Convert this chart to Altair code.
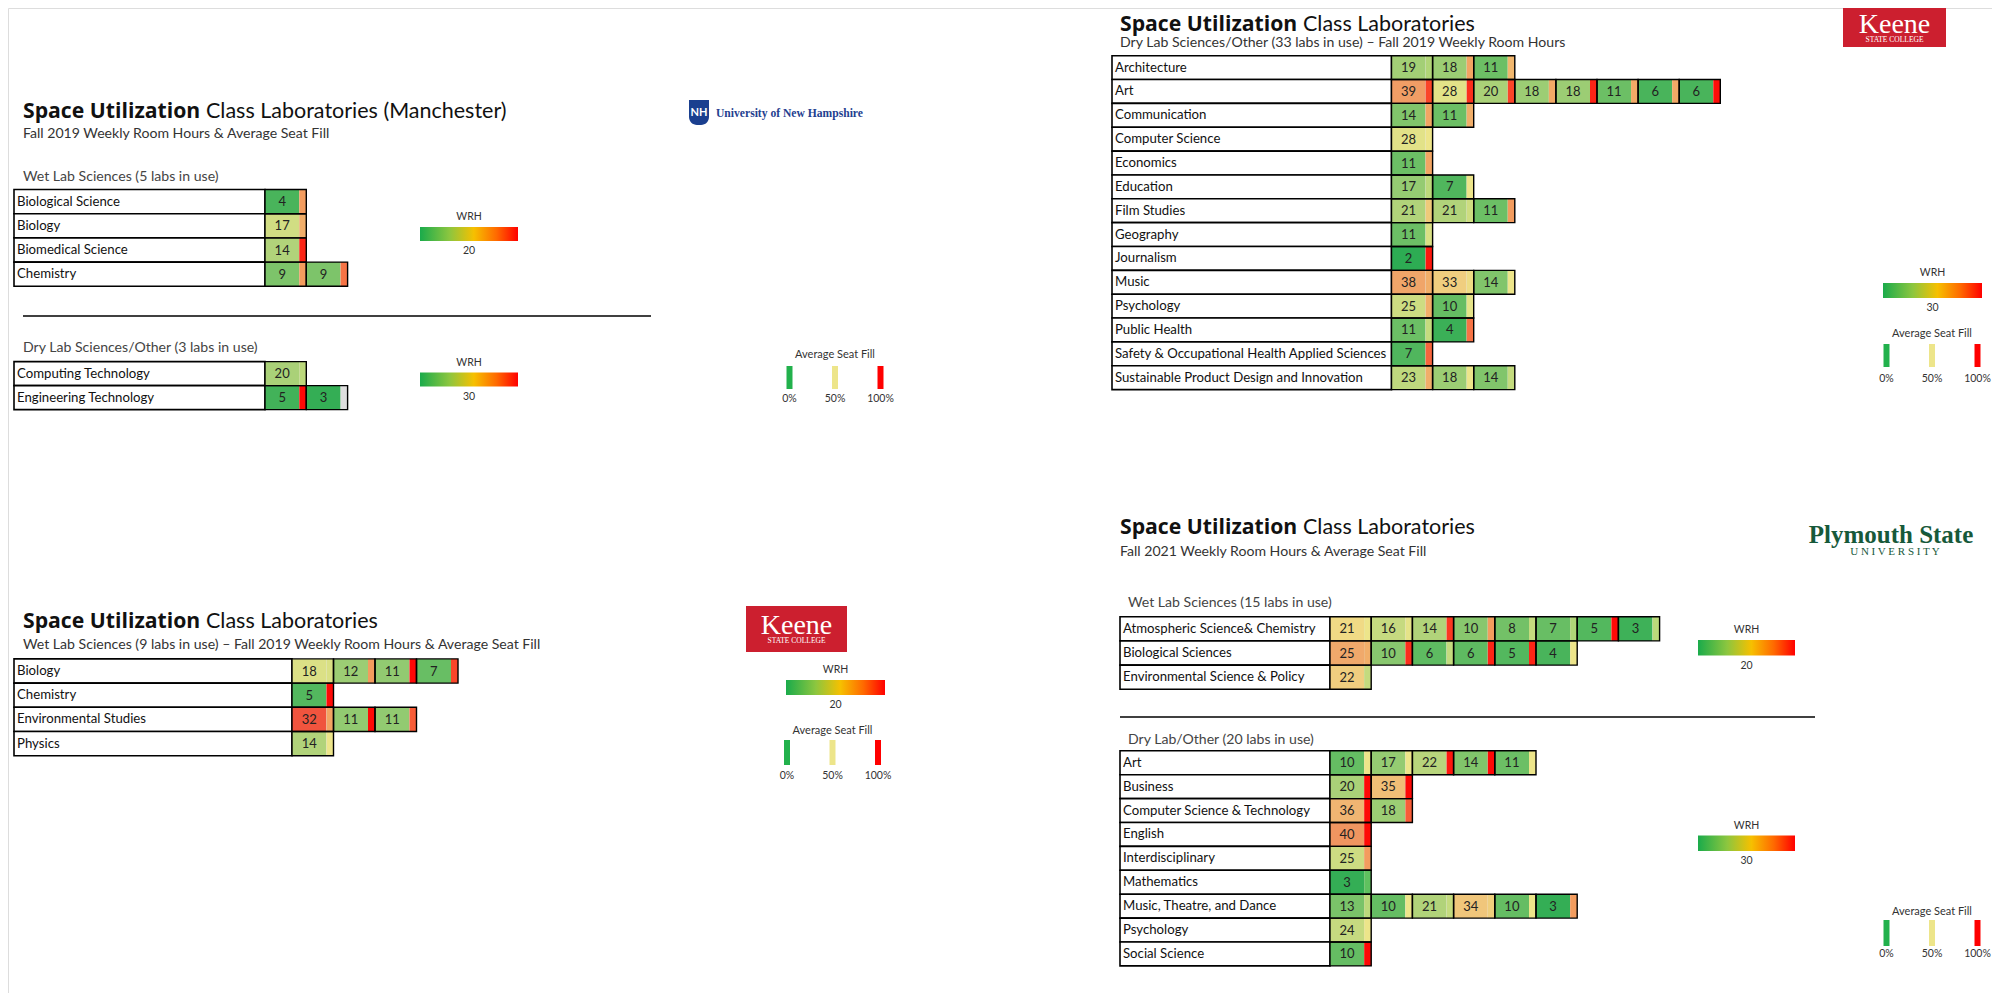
import altair as alt
import pandas as pd

# ---------------- data ----------------
# University of New Hampshire - Manchester
unh_wet_depts = ["Biological Science", "Biology", "Biomedical Science", "Chemistry"]
unh_wet_wrh = [[4], [17], [14], [9, 9]]
unh_wet_fill = [[66], [62], [92], [66, 75]]

unh_dry_depts = ["Computing Technology", "Engineering Technology"]
unh_dry_wrh = [[20], [5, 3]]
unh_dry_fill = [[38], [98, None]]

# Keene State College - dry labs
keene_dry_depts = ["Architecture", "Art", "Communication", "Computer Science", "Economics",
                   "Education", "Film Studies", "Geography", "Journalism", "Music",
                   "Psychology", "Public Health",
                   "Safety & Occupational Health Applied Sciences",
                   "Sustainable Product Design and Innovation"]
keene_dry_wrh = [[19, 18, 11], [39, 28, 20, 18, 18, 11, 6, 6], [14, 11], [28], [11],
                 [17, 7], [21, 21, 11], [11], [2], [38, 33, 14], [25, 10], [11, 4], [7],
                 [23, 18, 14]]
keene_dry_fill = [[35, 64, 60], [85, 90, 85, 63, 92, 63, 63, 97], [64, 62], [50], [64],
                  [38, 50], [56, 42, 66], [45], [95], [62, 52, 50], [62, 48], [40, 75], [78],
                  [62, 50, 40]]

# Keene State College - wet labs
keene_wet_depts = ["Biology", "Chemistry", "Environmental Studies", "Physics"]
keene_wet_wrh = [[18, 12, 11, 7], [5], [32, 11, 11], [14]]
keene_wet_fill = [[45, 66, 98, 85], [98], [64, 98, 80], [50]]

# Plymouth State University
psu_wet_depts = ["Atmospheric Science& Chemistry", "Biological Sciences",
                 "Environmental Science & Policy"]
psu_wet_wrh = [[21, 16, 14, 10, 8, 7, 5, 3], [25, 10, 6, 6, 5, 4], [22]]
psu_wet_fill = [[50, 48, 88, 66, 40, 35, 98, 38], [62, 90, 40, 92, 92, 50], [40]]

psu_dry_depts = ["Art", "Business", "Computer Science & Technology", "English",
                 "Interdisciplinary", "Mathematics", "Music, Theatre, and Dance",
                 "Psychology", "Social Science"]
psu_dry_wrh = [[10, 17, 22, 14, 11], [20, 35], [36, 18], [40], [25], [3],
               [13, 10, 21, 34, 10, 3], [24], [10]]
psu_dry_fill = [[50, 50, 95, 98, 50], [98, 98], [98, 80], [98], [66], [15],
                [38, 50, 40, 55, 50, 66], [50], [98]]

titles_bold = ["Space Utilization"] * 4
titles_reg = ["Class Laboratories (Manchester)", "Class Laboratories",
              "Class Laboratories", "Class Laboratories"]
subtitles = ["Fall 2019 Weekly Room Hours & Average Seat Fill",
             "Dry Lab Sciences/Other (33 labs in use) \u2013 Fall 2019 Weekly Room Hours",
             "Wet Lab Sciences (9 labs in use) \u2013 Fall 2019 Weekly Room Hours & Average Seat Fill",
             "Fall 2021 Weekly Room Hours & Average Seat Fill"]
sections = ["Wet Lab Sciences (5 labs in use)", "Dry Lab Sciences/Other (3 labs in use)",
            "Wet Lab Sciences (15 labs in use)", "Dry Lab/Other (20 labs in use)"]
fill_pcts = [0, 50, 100]
fill_labels = ["0%", "50%", "100%"]

# ---------------- layout ----------------
FONT = "Lato"
BOLD_FONT = "Open Sans"
SERIF = "Liberation Serif"
STRIP = 7

tables = [
    dict(depts=unh_wet_depts, wrh=unh_wet_wrh, fill=unh_wet_fill, target=20,
         x0=14, x1=265, top=189.5, rh=24.2, cw=41.3, leg=(420, 518, 227, 241)),
    dict(depts=unh_dry_depts, wrh=unh_dry_wrh, fill=unh_dry_fill, target=30,
         x0=14, x1=265, top=361.6, rh=24.0, cw=41.3, leg=(420, 518, 372.5, 386.5)),
    dict(depts=keene_dry_depts, wrh=keene_dry_wrh, fill=keene_dry_fill, target=30,
         x0=1112, x1=1391.5, top=55.7, rh=23.85, cw=41.1, leg=(1883, 1982, 283, 298)),
    dict(depts=keene_wet_depts, wrh=keene_wet_wrh, fill=keene_wet_fill, target=20,
         x0=14, x1=292, top=658.9, rh=24.2, cw=41.5, leg=(786, 885, 680, 695)),
    dict(depts=psu_wet_depts, wrh=psu_wet_wrh, fill=psu_wet_fill, target=20,
         x0=1120, x1=1330, top=616.7, rh=24.2, cw=41.2, leg=(1698, 1795, 640, 655.5)),
    dict(depts=psu_dry_depts, wrh=psu_dry_wrh, fill=psu_dry_fill, target=30,
         x0=1120, x1=1330, top=750.8, rh=23.9, cw=41.2, leg=(1698, 1795, 835.5, 851)),
]
title_pos = [(23, 112, 134), (1120, 25, 43), (23, 622, 645), (1120, 528, 552)]
TITLE_GAP = 183
section_pos = [(23, 177), (23, 348), (1128, 603), (1128, 740)]
# seat-fill legends: first bar centre x, bar top, bar bottom, title y, label y
fill_leg_pos = [(789.5, 366, 389, 355, 399), (1886.5, 344, 367, 334, 379),
                (787, 740, 765, 731, 776), (1886.5, 920, 946, 912, 954)]
FILL_SPACING = 45.5
separators = [dict(x0=23, x1=651, y=316), dict(x0=1120, x1=1815, y=717)]

# ---------------- build tables ----------------
name_rows, cell_rows, grad_rows = [], [], []
left_txt, bold_txt, center_txt = [], [], []
for t in tables:
    for i, (dept, vals, fills) in enumerate(zip(t["depts"], t["wrh"], t["fill"])):
        y0 = t["top"] + i * t["rh"]
        y1 = y0 + t["rh"]
        name_rows.append(dict(x0=t["x0"], x1=t["x1"], y0=y0, y1=y1))
        left_txt.append(dict(x=t["x0"] + 3, y=(y0 + y1) / 2, text=dept, fs=13.2, col="#111111"))
        for j, (v, f) in enumerate(zip(vals, fills)):
            cx0 = t["x1"] + j * t["cw"]
            cx1 = cx0 + t["cw"]
            cs = cx1 - STRIP
            cell_rows.append(dict(x0=cx0, xs=cs, x1=cx1, y0=y0, y1=y1,
                                  ratio=v / t["target"], fill=f))
            center_txt.append(dict(x=(cx0 + cs) / 2, y=(y0 + y1) / 2 + 0.5, text=str(v),
                                   fs=13, col="#222222"))
    lx0, lx1, ly0, ly1 = t["leg"]
    grad_rows.append(dict(x0=lx0, x1=lx1, y0=ly0, y1=ly1))
    center_txt.append(dict(x=(lx0 + lx1) / 2, y=ly0 - 10, text="WRH", fs=10.5, col="#333333"))
    center_txt.append(dict(x=(lx0 + lx1) / 2, y=ly1 + 10, text=str(t["target"]), fs=10.5,
                           col="#333333"))

for k in range(4):
    x, ty, sy = title_pos[k]
    bold_txt.append(dict(x=x, y=ty, text=titles_bold[k], fs=21.2, col="#111111"))
    left_txt.append(dict(x=x + TITLE_GAP, y=ty, text=titles_reg[k], fs=21.5, col="#111111"))
    left_txt.append(dict(x=x, y=sy, text=subtitles[k], fs=14.1, col="#333333"))
    sx, sy2 = section_pos[k]
    left_txt.append(dict(x=sx, y=sy2, text=sections[k], fs=14.1, col="#444444"))

fill_bar_rows = []
for (bx, by0, by1, tyy, lyy) in fill_leg_pos:
    center_txt.append(dict(x=bx + FILL_SPACING, y=tyy, text="Average Seat Fill", fs=11,
                           col="#333333"))
    for m, (p, lab) in enumerate(zip(fill_pcts, fill_labels)):
        cx = bx + m * FILL_SPACING
        fill_bar_rows.append(dict(x0=cx - 3, x1=cx + 3, y0=by0, y1=by1, pct=p))
        center_txt.append(dict(x=cx, y=lyy, text=lab, fs=10.5, col="#333333"))

names_df = pd.DataFrame(name_rows)
cells_df = pd.DataFrame(cell_rows)
grad_df = pd.DataFrame(grad_rows)
fillbar_df = pd.DataFrame(fill_bar_rows)
left_df = pd.DataFrame(left_txt)
bold_df = pd.DataFrame(bold_txt)
center_df = pd.DataFrame(center_txt)
sep_df = pd.DataFrame(separators)

# logos
keene_boxes = pd.DataFrame([dict(x0=1843, x1=1946, y0=5, y1=47), dict(x0=746, x1=847, y0=606, y1=652)])
keene_big = pd.DataFrame([dict(x=(r.x0 + r.x1) / 2, y=r.y0 + 28, text="Keene") for r in keene_boxes.itertuples()])
keene_small = pd.DataFrame([dict(x=(r.x0 + r.x1) / 2, y=r.y0 + 37, text="STATE COLLEGE") for r in keene_boxes.itertuples()])
unh_shield = pd.DataFrame([dict(x0=689, x1=709, y0=100, y1=125)])
unh_nh = pd.DataFrame([dict(x=699, y=113, text="NH")])
unh_word = pd.DataFrame([dict(x=716, y=114, text="University of New Hampshire")])
psu_word = pd.DataFrame([dict(x=1891, y=543, text="Plymouth State")])
psu_univ = pd.DataFrame([dict(x=1895, y=555, text="U  N  I  V  E  R  S  I  T  Y")])

# ---------------- encodings ----------------
XS = alt.Scale(domain=[8, 1992], nice=False, zero=False)
YS = alt.Scale(domain=[8, 993], nice=False, zero=False, reverse=True)


def X(f):
    return alt.X(f"{f}:Q", scale=XS, axis=None)


def Y(f):
    return alt.Y(f"{f}:Q", scale=YS, axis=None)


def rect_enc(x0="x0", x1="x1", y0="y0", y1="y1"):
    return dict(x=X(x0), x2=alt.X2(f"{x1}:Q"), y=Y(y0), y2=alt.Y2(f"{y1}:Q"))


wrh_scale = alt.Scale(domain=[0, 1, 1.75], range=["#1fa84f", "#f0e68c", "#f0302a"],
                      clamp=True, interpolate="rgb")
fill_scale = alt.Scale(domain=[0, 50, 100], range=["#22b14c", "#ede58a", "#ff0000"],
                       clamp=True, interpolate="rgb")

layers = []
layers.append(alt.Chart(names_df).mark_rect(fill="white", stroke="black", strokeWidth=1.6)
              .encode(**rect_enc()))
layers.append(alt.Chart(cells_df).mark_rect()
              .encode(**rect_enc(x1="xs"),
                      fill=alt.Fill("ratio:Q", scale=wrh_scale, legend=None)))
layers.append(alt.Chart(cells_df).mark_rect(fill="#dedede")
              .encode(**rect_enc(x0="xs")))
layers.append(alt.Chart(cells_df).transform_filter("isValid(datum.fill)").mark_rect()
              .encode(**rect_enc(x0="xs"),
                      color=alt.Color("fill:Q", scale=fill_scale, legend=None)))
layers.append(alt.Chart(cells_df).mark_rect(fillOpacity=0, stroke="black", strokeWidth=1.4)
              .encode(**rect_enc()))
layers.append(alt.Chart(sep_df).mark_rule(color="black", strokeWidth=1.5)
              .encode(x=X("x0"), x2=alt.X2("x1:Q"), y=Y("y")))
layers.append(alt.Chart(grad_df).mark_rect(
    color=alt.Gradient(gradient="linear",
                       stops=[alt.GradientStop(color="#1aab4b", offset=0),
                              alt.GradientStop(color="#8cc63f", offset=0.3),
                              alt.GradientStop(color="#f6c000", offset=0.55),
                              alt.GradientStop(color="#ff6a00", offset=0.78),
                              alt.GradientStop(color="#ff0000", offset=1)],
                       x1=0, x2=1, y1=0, y2=0))
    .encode(**rect_enc()))
layers.append(alt.Chart(fillbar_df).mark_rect()
              .encode(**rect_enc(),
                      color=alt.Color("pct:Q", scale=fill_scale, legend=None)))

layers.append(alt.Chart(left_df).mark_text(align="left", baseline="middle", font=FONT)
              .encode(x=X("x"), y=Y("y"), text="text:N",
                      size=alt.Size("fs:Q", scale=None),
                      color=alt.Color("col:N", scale=None)))
layers.append(alt.Chart(bold_df).mark_text(align="left", baseline="middle", font=BOLD_FONT,
                                           fontWeight="bold")
              .encode(x=X("x"), y=Y("y"), text="text:N",
                      size=alt.Size("fs:Q", scale=None),
                      color=alt.Color("col:N", scale=None)))
layers.append(alt.Chart(center_df).mark_text(align="center", baseline="middle", font=FONT)
              .encode(x=X("x"), y=Y("y"), text="text:N",
                      size=alt.Size("fs:Q", scale=None),
                      color=alt.Color("col:N", scale=None)))

# logos
layers.append(alt.Chart(keene_boxes).mark_rect(color="#cc1f2f").encode(**rect_enc()))
layers.append(alt.Chart(keene_big).mark_text(font=SERIF, fontSize=28, color="white",
                                             align="center", baseline="alphabetic")
              .encode(x=X("x"), y=Y("y"), text="text:N"))
layers.append(alt.Chart(keene_small).mark_text(font=SERIF, fontSize=7.5, color="white",
                                               align="center", baseline="alphabetic")
              .encode(x=X("x"), y=Y("y"), text="text:N"))
layers.append(alt.Chart(unh_shield).mark_rect(color="#1a3f8f", cornerRadiusBottomLeft=8,
                                              cornerRadiusBottomRight=8)
              .encode(**rect_enc()))
layers.append(alt.Chart(unh_nh).mark_text(font=FONT, fontSize=11, fontWeight="bold",
                                          color="white", align="center", baseline="middle")
              .encode(x=X("x"), y=Y("y"), text="text:N"))
layers.append(alt.Chart(unh_word).mark_text(font=SERIF, fontSize=11.6, fontWeight="bold",
                                            color="#23408f", align="left", baseline="middle")
              .encode(x=X("x"), y=Y("y"), text="text:N"))
layers.append(alt.Chart(psu_word).mark_text(font=SERIF, fontSize=25, fontWeight="bold",
                                            color="#17593a", align="center",
                                            baseline="alphabetic")
              .encode(x=X("x"), y=Y("y"), text="text:N"))
layers.append(alt.Chart(psu_univ).mark_text(font=SERIF, fontSize=11, color="#17593a",
                                            align="center", baseline="alphabetic")
              .encode(x=X("x"), y=Y("y"), text="text:N"))

chart = (alt.layer(*layers)
         .resolve_scale(color="independent", fill="independent", size="independent")
         .properties(width=1984, height=985, padding=0,
                     autosize=alt.AutoSizeParams(type="none"))
         .configure_view(strokeWidth=0)
         .configure(background="white"))

chart.save("out.html", embed_options={"renderer": "svg", "actions": False})
